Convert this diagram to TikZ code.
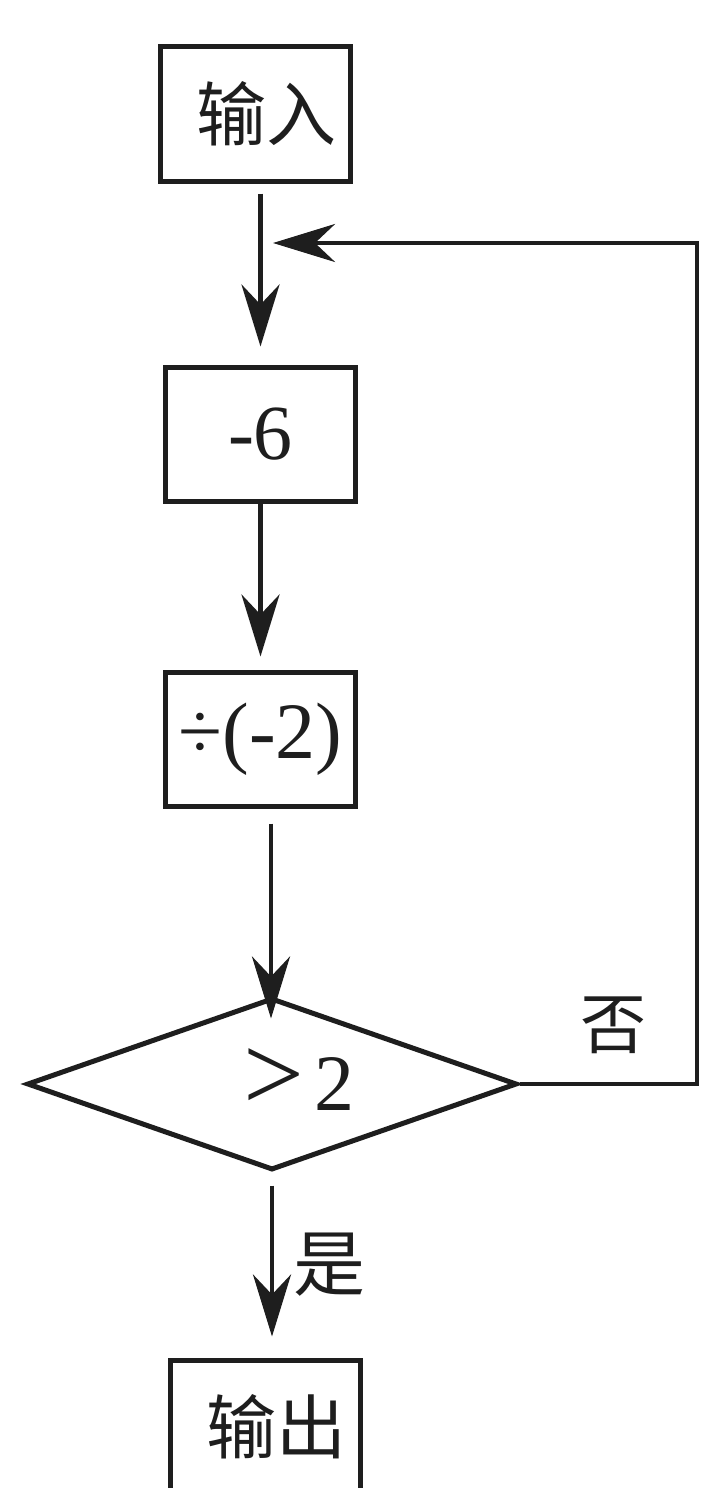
\documentclass[tikz,border=0pt]{standalone}
\usepackage{fontspec}
\setmainfont{Liberation Serif}
\newfontfamily\cjk{Noto Sans CJK SC}
\usetikzlibrary{arrows.meta,shapes.geometric,calc}
\definecolor{ink}{HTML}{1E1E1E}
\begin{document}
\begin{tikzpicture}[x=1pt,y=-1pt,
  stepbox/.style={draw=ink,line width=5pt,minimum width=190pt,minimum height=134pt,inner sep=0pt,text=ink},
  cjktext/.style={font=\cjk\fontsize{70pt}{70pt}\selectfont,text=ink},
  numtext/.style={font=\fontsize{78pt}{78pt}\selectfont,text=ink},
  arr/.style={draw=ink,line width=4.5pt,line join=miter,-{Stealth[length=62pt,width=38pt,inset=20pt]}}]
\useasboundingbox (0,0) rectangle (701,1488);
\fill[white] (0,0) rectangle (701,1488);
% nodes
\node[stepbox,cjktext] (in) at (255,114) {\hspace*{22pt}输入};
\node[stepbox,numtext] (six) at (260.5,434) {-6};
\node[stepbox,numtext,font=\fontsize{80pt}{80pt}\selectfont] (div) at (260.5,739) {÷(-2)};
\node[diamond,draw=ink,line width=5pt,minimum width=490pt,minimum height=172pt,aspect=2.85,inner sep=0pt] (dec) at (272,1084) {};
\node[text=ink,inner sep=0pt,anchor=base] (gt) at (299,1110) {{\fontsize{108pt}{108pt}\selectfont >}\hspace{10pt}{\fontsize{80pt}{80pt}\selectfont 2}};
\node[stepbox,cjktext] (out) at (265,1427) {\hspace*{22pt}输出};
\node[cjktext,font=\cjk\fontsize{66pt}{66pt}\selectfont,inner sep=0pt] (no) at (613,1025) {否};
\node[cjktext,font=\cjk\fontsize{72pt}{72pt}\selectfont,inner sep=0pt] (yes) at (329,1265) {是};
% connectors
\draw[arr,shorten <=10pt,shorten >=18pt] (in.south -| six.north) -- (six.north);
\draw[arr,shorten >=13pt] (six.south) -- (div.north);
\draw[arr,shorten <=15pt] ([xshift=10.5pt]div.south) -- ([xshift=10.5pt,yshift=-23pt]div.south |- dec.north);
\draw[arr,shorten <=13pt,shorten >=21pt] (dec.south) -- (dec.south |- out.north);
\coordinate (loopR) at (697,243);
\coordinate (join) at (273,243);
\draw[arr] (dec.east) -| (loopR) -- (join);
\end{tikzpicture}
\end{document}
